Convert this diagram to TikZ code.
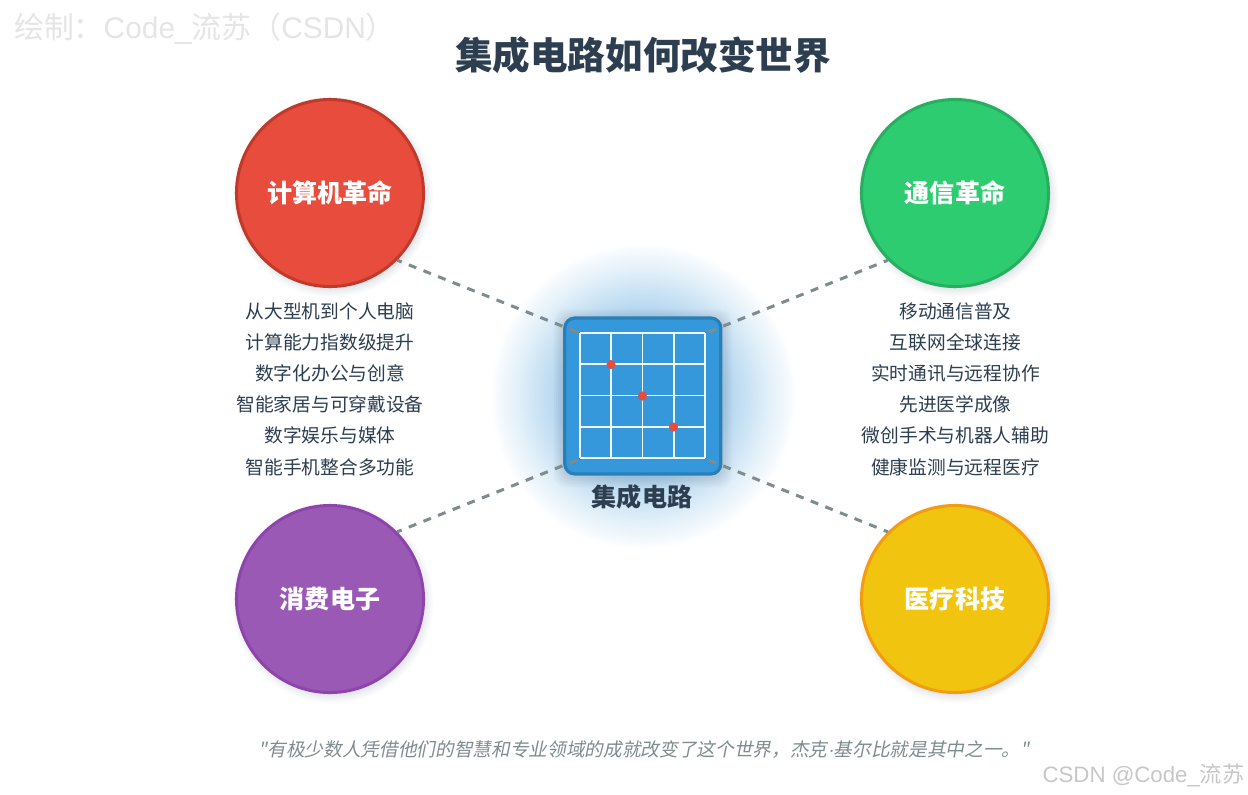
\documentclass[tikz,border=0pt]{standalone}
\usepackage{fontspec}
\newfontfamily\cjk{Noto Sans CJK SC}
\newfontfamily\cjkslant[FakeSlant=0.2]{Noto Sans CJK SC}
\newfontfamily\lat{Liberation Sans}
\newfontfamily\latslant[FakeSlant=0.2]{Liberation Sans}
\definecolor{ink}{HTML}{2C3E50}
\definecolor{wire}{HTML}{7F8C8D}
\definecolor{chipfill}{HTML}{3498DB}
\definecolor{chipedge}{HTML}{2980B9}
\definecolor{dotred}{HTML}{E74C3C}
\definecolor{redb}{HTML}{C0392B}
\definecolor{greenf}{HTML}{2ECC71}
\definecolor{greenb}{HTML}{27AE60}
\definecolor{purplef}{HTML}{9B59B6}
\definecolor{purpleb}{HTML}{8E44AD}
\definecolor{yellowf}{HTML}{F1C40F}
\definecolor{yellowb}{HTML}{F39C12}
\pgfdeclareradialshading{glowshade}{\pgfpointorigin}{
 color(0bp)=(chipfill);
 color(13bp)=(rgb,255:red,174;green,212;blue,239);
 color(17bp)=(rgb,255:red,201;green,226;blue,244);
 color(20.5bp)=(rgb,255:red,226;green,240;blue,249);
 color(23.5bp)=(rgb,255:red,244;green,249;blue,253);
 color(25bp)=(white);
 color(50bp)=(white)}
\pgfdeclareradialshading{discshadow}{\pgfpointorigin}{
 color(0bp)=(rgb,255:red,205;green,210;blue,217);
 color(21.5bp)=(rgb,255:red,205;green,210;blue,217);
 color(23bp)=(rgb,255:red,232;green,235;blue,238);
 color(25bp)=(white);
 color(50bp)=(white)}
\tikzset{
 x=0.75pt,y=-0.75pt,
 topic/.style={circle,minimum size=140.3pt,inner sep=0pt,line width=2.25pt,
   text=white,font=\cjk\bfseries\fontsize{18.8pt}{22pt}\selectfont},
 softdisc/.style={circle,minimum size=76pt*2,inner sep=0pt,shading=discshadow},
 listing/.style={align=center,text=ink,inner sep=0pt,
   font=\cjk\fontsize{14.05pt}{23.4pt}\selectfont},
 link/.style={draw=wire,line width=2.25pt,dash pattern=on 6pt off 5.8pt},
 gridline/.style={draw=white,line width=1.3pt,opacity=.92},
 chipdot/.style={circle,fill=dotred,minimum size=6.8pt,inner sep=0pt},
}
\begin{document}
\begin{tikzpicture}
\useasboundingbox (0,0) rectangle (1248,794);
\fill[white] (0,0) rectangle (1248,794);
\node[circle,minimum size=230pt,inner sep=0pt,shading=glowshade] (glow) at (643,396) {};
\node[anchor=center,inner sep=0pt,text=black!10,font=\fontsize{22.4pt}{24pt}\selectfont] (mark1) at (205,29)
 {{\cjk 绘制：}{\lat Code\_}{\cjk 流苏（}{\lat CSDN}{\cjk ）}};
\node[inner sep=0pt,text=ink,font=\cjk\bfseries\fontsize{28.2pt}{32pt}\selectfont] (title) at (643,55) {集成电路如何改变世界};
\node[softdisc] (s1) at (332,196) {};
\node[softdisc] (s2) at (957,196) {};
\node[softdisc] (s3) at (332,602) {};
\node[softdisc] (s4) at (957,602) {};
\node[topic,fill=dotred,draw=redb] (comp) at (330,193) {计算机革命};
\node[topic,fill=greenf,draw=greenb] (comm) at (955,193) {通信革命};
\node[topic,fill=purplef,draw=purpleb] (cons) at (330,599) {消费电子};
\node[topic,fill=yellowf,draw=yellowb] (medi) at (955,599) {医疗科技};
\foreach \g in {10,8,...,2}{
 \fill[black,opacity=.018,rounded corners=9pt] ({643-79-\g},{396-79-\g+2}) rectangle ({643+79+\g},{396+79+\g+2});
}
\node[rectangle,rounded corners=7.5pt,minimum size=117pt,inner sep=0pt,fill=chipfill,draw=chipedge,line width=2.4pt] (chip) at (642.8,396) {};
\foreach \k in {0,1,2,3,4}{
 \draw[gridline] ({580+31.25*\k},333) -- ({580+31.25*\k},458);
 \draw[gridline] (580,{333+31.25*\k}) -- (705,{333+31.25*\k});
}
\node[chipdot] (d1) at (611,364.5) {};
\node[chipdot] (d2) at (642.5,396) {};
\node[chipdot] (d3) at (673.5,427) {};
\coordinate (tl) at (577,332);
\coordinate (tr) at (708.5,332);
\coordinate (bl) at (577,460);
\coordinate (br) at (708.5,460);
\draw[link] (tl) -- (comp.-45);
\draw[link] (tr) -- (comm.-135);
\draw[link] (bl) -- (cons.45);
\draw[link] (br) -- (medi.135);
\node[inner sep=0pt,text=ink,font=\cjk\bfseries\fontsize{18.8pt}{22pt}\selectfont] (chiplabel) at (642,497) {集成电路};
\node[listing] (leftlist) at (330,389) {从大型机到个人电脑\\计算能力指数级提升\\数字化办公与创意\\智能家居与可穿戴设备\\数字娱乐与媒体\\智能手机整合多功能};
\node[listing] (rightlist) at (955.5,389) {移动通信普及\\互联网全球连接\\实时通讯与远程协作\\先进医学成像\\微创手术与机器人辅助\\健康监测与远程医疗};
\node[inner sep=0pt,text=wire,font=\cjkslant\fontsize{14pt}{18pt}\selectfont] (quote) at (644,750) {"有极少数人凭借他们的智慧和专业领域的成就改变了这个世界，杰克{\latslant ·}基尔比就是其中之一。"};
\node[inner sep=0pt,text=black!22,font=\fontsize{16.7pt}{20pt}\selectfont] (mark2) at (1143.5,775) {{\lat CSDN @Code\_}{\cjk 流苏}};
\end{tikzpicture}
\end{document}
